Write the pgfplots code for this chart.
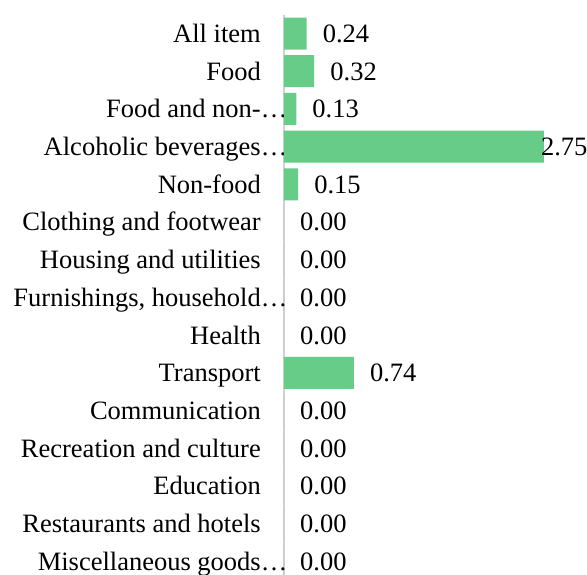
\documentclass[border=0pt]{standalone}
\usepackage{pgfplots}
\pgfplotsset{compat=1.18}
\usepackage{fontspec}
\setmainfont{Liberation Serif}
\definecolor{barg}{RGB}{102,204,136}
\definecolor{axg}{RGB}{208,208,208}
\begin{document}
\begin{tikzpicture}
\begin{axis}[
  at={(284pt,-14.65pt)}, anchor=north west,
  scale only axis, width=303pt, height=565.5pt,
  xmin=0, xmax=3.2063,
  ymin=-0.5, ymax=14.5, y dir=reverse,
  axis x line=none, axis y line=left,
  y axis line style={-, draw=axg, line width=1.5pt},
  ytick={0,...,14},
  yticklabels={All item, Food, {Food and non-\rlap{…}}, {Alcoholic beverages\rlap{…}}, Non-food,
    Clothing and footwear, Housing and utilities, {Furnishings, household\rlap{…}}, Health,
    Transport, Communication, Recreation and culture, Education, Restaurants and hotels,
    {Miscellaneous goods\rlap{…}}},
  major tick length=0pt,
  yticklabel style={font=\fontsize{26.5}{31}\selectfont, anchor=east, inner sep=0pt, xshift=-23pt,
    text height=23.6pt, text depth=5.7pt},
  clip=false,
]
\addplot[xbar, bar width=32pt, fill=barg, draw=none] coordinates {
  (0.24,0) (0.32,1) (0.13,2) (2.75,3) (0.15,4) (0,5) (0,6) (0,7) (0,8) (0.74,9)
  (0,10) (0,11) (0,12) (0,13) (0,14)};
\addplot[draw=none, mark=none, nodes near coords, point meta=explicit symbolic,
  nodes near coords style={anchor=west, inner sep=0pt, font=\fontsize{26.5}{31}\selectfont,
    text height=23.6pt, text depth=5.7pt, black}] coordinates {
  (0.409,0) [0.24] (0.489,1) [0.32] (0.299,2) [0.13] (2.718,3) [2.75] (0.319,4) [0.15]
  (0.169,5) [0.00] (0.169,6) [0.00] (0.169,7) [0.00] (0.169,8) [0.00] (0.909,9) [0.74]
  (0.169,10) [0.00] (0.169,11) [0.00] (0.169,12) [0.00] (0.169,13) [0.00] (0.169,14) [0.00]};
\end{axis}
\pgfresetboundingbox
\useasboundingbox (0,0) rectangle (587pt,-574pt);
\end{tikzpicture}
\end{document}
